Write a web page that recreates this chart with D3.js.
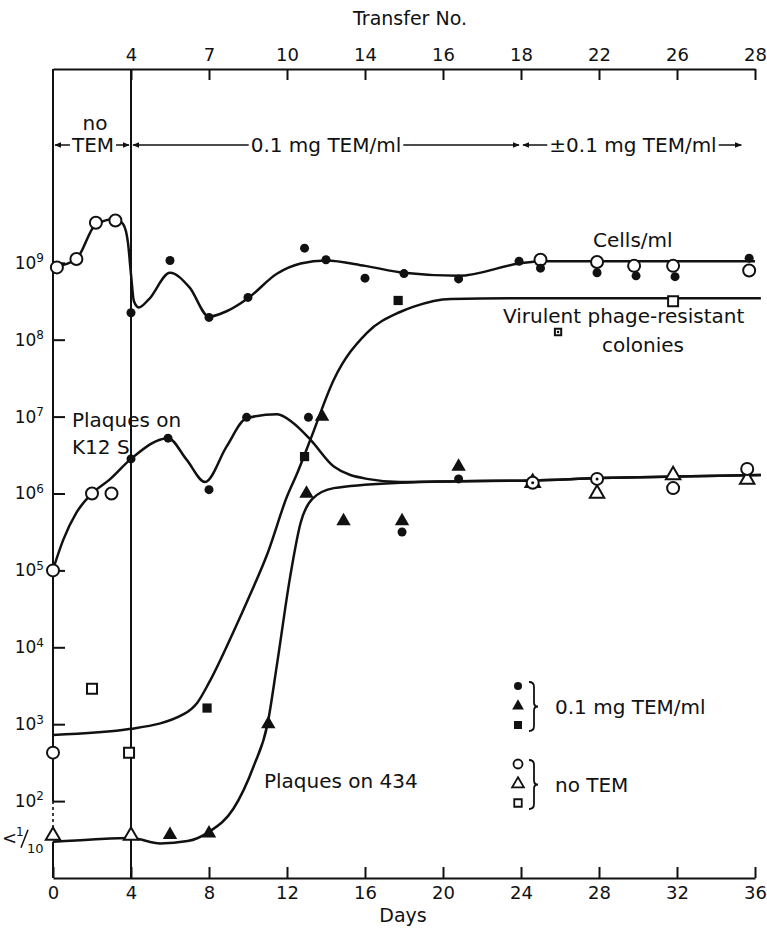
<!DOCTYPE html>
<meta charset="utf-8">
<style>
body { margin: 0; background: #fff; }
text { font-family: "DejaVu Sans", sans-serif; fill: #111; }
.curve { fill: none; stroke: #111; stroke-width: 2.5px; }
</style>
<svg width="767" height="934"></svg>
<script src="https://d3js.org/d3.v7.min.js"></script>
<script>

// ---- data (y values are log10 of count per ml) ----
var dayTicks = [0, 4, 8, 12, 16, 20, 24, 28, 32, 36];
var transferDays = [4, 8, 12, 16, 20, 24, 28, 32, 36];
var transferLabels = ["4", "7", "10", "14", "16", "18", "22", "26", "28"];
var decades = [2, 3, 4, 5, 6, 7, 8, 9];
var belowLimit = 1.55;   // "< 1/10" level

// hand drawn curves [day, log10]
var cellsCurve = [[0, 8.94], [1.2, 9.05], [2.2, 9.5], [3.2, 9.57], [3.6, 9.5], [3.85, 9.25], [4.0, 8.85],
  [4.15, 8.5], [4.4, 8.42], [4.9, 8.52], [6.0, 8.87], [7.0, 8.68], [8.0, 8.3], [8.9, 8.37], [10, 8.54],
  [11.5, 8.86], [12.7, 8.99], [14, 9.03], [16, 8.96], [18, 8.87], [20.8, 8.83], [23.9, 8.99], [25, 9.02], [36, 9.02]];
var resistantCurve = [[0, 2.86], [4, 2.94], [6.7, 3.13], [7.4, 3.28], [8, 3.54], [9.25, 4.2], [10.1, 4.68],
  [11, 5.22], [12, 5.96], [12.5, 6.25], [13.2, 6.7], [14.4, 7.48], [16.1, 8.09], [17.8, 8.36], [18.5, 8.43],
  [20.4, 8.53], [24, 8.54], [36.3, 8.54]];
var k12sCurve = [[0, 5.01], [0.53, 5.4], [1.2, 5.75], [2, 6.0], [2.9, 6.18], [4, 6.45], [5.9, 6.72], [6.85, 6.44],
  [7.8, 6.15], [8.9, 6.61], [9.93, 6.98], [11.5, 7.03], [12.3, 6.92], [13.2, 6.7], [14.4, 6.35], [16.1, 6.19],
  [17.8, 6.15], [20.8, 6.16], [24.6, 6.17], [28, 6.2], [32, 6.22], [36.3, 6.24]];
var p434Curve = [[0, 1.47], [2, 1.5], [4, 1.52], [5.5, 1.45], [6.9, 1.48], [8, 1.6], [9.25, 1.9], [10.3, 2.46],
  [11, 3.0], [11.5, 3.8], [12.15, 4.9], [12.7, 5.62], [13.3, 5.93], [14.4, 6.07], [17.8, 6.14],
  [20.8, 6.16], [24.6, 6.17], [28, 6.2], [32, 6.22], [36.3, 6.24]];

// measured points [day, log10]
var openCircles = [[0.2, 8.94], [1.2, 9.05], [2.2, 9.52], [3.2, 9.55], [25, 9.04], [27.9, 9.01], [29.8, 8.96],
  [31.8, 8.96], [35.7, 8.9], [0, 5.0], [2, 6.0], [3, 6.0], [31.8, 6.07], [35.6, 6.32], [0, 2.63]];
var dottedCircles = [[24.6, 6.14], [27.9, 6.19]];
var filledCircles = [[4, 8.35], [6, 9.03], [8, 8.29], [10, 8.55], [12.9, 9.19], [14, 9.04], [16, 8.8], [18, 8.86],
  [20.8, 8.79], [23.9, 9.02], [25, 8.93], [27.9, 8.87], [29.9, 8.83], [31.9, 8.82], [35.7, 9.06],
  [4, 6.45], [5.9, 6.72], [8, 6.05], [9.93, 6.99], [13.1, 6.99], [17.9, 5.5], [20.8, 6.19]];
var openTriangles = [[0, belowLimit], [4, belowLimit], [24.6, 6.14], [27.9, 6.0], [31.8, 6.24], [35.6, 6.18]];
var filledTriangles = [[6, 1.56], [8, 1.58], [11.04, 3.0], [13, 6.0], [13.8, 7.0], [14.9, 5.64], [17.9, 5.64], [20.8, 6.35]];
var openSquares = [[2, 3.46], [3.9, 2.63], [31.8, 8.5]];
var filledSquares = [[7.9, 3.21], [12.9, 6.48], [17.7, 8.51]];
var dottedSquares = [[25.9, 8.1]];

var periods = [
  {from: 0, to: 4, label: "TEM"},
  {from: 4, to: 24, label: "0.1 mg TEM/ml"},
  {from: 24, to: 35.4, label: "\u00b10.1 mg TEM/ml"}
];

// ---- layout ----
var svg = d3.select("svg"),
    width = +svg.attr("width"),
    height = +svg.attr("height");

svg.append("rect").attr("width", width).attr("height", height).attr("fill", "#fff");

var x = d3.scaleLinear().domain([0, 36]).range([53, 755]);
var y = d3.scaleLog().domain([10, Math.pow(10, 11.52)]).range([878, 69]);
var yl = function(v) { return y(Math.pow(10, v)); };

var yTop = y.range()[1], yBottom = y.range()[0];

svg.append("defs").append("marker")
   .attr("id", "head")
   .attr("viewBox", "0 0 10 10")
   .attr("refX", 9).attr("refY", 5)
   .attr("markerWidth", 7).attr("markerHeight", 7)
   .attr("markerUnits", "userSpaceOnUse")
   .attr("orient", "auto")
   .append("path").attr("d", "M0,1L10,5L0,9Z").attr("fill", "#111");

// bottom axis (days)
var xAxis = svg.append("g")
   .attr("transform", "translate(0," + yBottom + ")")
   .call(d3.axisBottom(x).tickValues(dayTicks).tickSizeInner(-11).tickSizeOuter(0).tickPadding(8));
// top axis (transfer no.)
var tAxis = svg.append("g")
   .attr("transform", "translate(0," + yTop + ")")
   .call(d3.axisTop(x).tickValues(transferDays).tickSizeInner(-11).tickSizeOuter(0).tickPadding(8)
     .tickFormat(function(d, i) { return transferLabels[i]; }));
// left axis, domain drawn by hand because of the break
var yAxis = svg.append("g")
   .attr("transform", "translate(" + x(0) + ",0)")
   .call(d3.axisLeft(y).tickValues(decades.map(function(k) { return Math.pow(10, k); }))
     .tickSizeInner(-12).tickSizeOuter(0).tickPadding(9));
yAxis.select(".domain").remove();
yAxis.selectAll(".tick text").each(function(d) {
  var t = d3.select(this);
  t.text(null);
  t.append("tspan").text("10");
  t.append("tspan").attr("dy", "-0.55em").attr("font-size", "12px").text(Math.round(Math.log10(d)));
});

[xAxis, tAxis, yAxis].forEach(function(g) {
  g.attr("font-family", null).attr("font-size", null);
  g.selectAll("text").attr("font-size", "17px").attr("fill", "#111");
  g.selectAll("line, path").attr("stroke", "#111").attr("stroke-width", 2);
});
xAxis.selectAll("text").attr("font-size", "18px");
tAxis.selectAll("text").attr("font-size", "18px");

svg.append("line").attr("x1", x(0)).attr("x2", x(0)).attr("y1", yTop).attr("y2", y(100))
   .attr("stroke", "#111").attr("stroke-width", 2);
svg.append("line").attr("x1", x(0)).attr("x2", x(0)).attr("y1", y(100)).attr("y2", yl(belowLimit) - 7)
   .attr("stroke", "#111").attr("stroke-width", 1.6).attr("stroke-dasharray", "3,3");
svg.append("line").attr("x1", x(0)).attr("x2", x(0)).attr("y1", yl(belowLimit) + 6).attr("y2", yBottom)
   .attr("stroke", "#111").attr("stroke-width", 2);
svg.append("line").attr("x1", x(4)).attr("x2", x(4)).attr("y1", yTop).attr("y2", yBottom)
   .attr("stroke", "#111").attr("stroke-width", 2);

// "< 1/10"
var lim = svg.append("g").attr("transform", "translate(0," + yl(belowLimit) + ")");
lim.append("text").attr("x", 2).attr("y", 8).attr("font-size", "18px").text("<");
lim.append("text").attr("x", 16).attr("y", 0).attr("font-size", "12px").text("1");
lim.append("line").attr("x1", 21).attr("x2", 28).attr("y1", 12).attr("y2", -6)
   .attr("stroke", "#111").attr("stroke-width", 1.5);
lim.append("text").attr("x", 27).attr("y", 17).attr("font-size", "13px").text("10");

// axis titles
svg.append("text").attr("x", 410).attr("y", 25).attr("text-anchor", "middle").attr("font-size", "19px").text("Transfer No.");
svg.append("text").attr("x", 403).attr("y", 922).attr("text-anchor", "middle").attr("font-size", "19px").text("Days");

// treatment periods
svg.append("text").attr("x", 95).attr("y", 130).attr("text-anchor", "middle").attr("font-size", "20px").text("no");
var arrowY = 145;
periods.forEach(function(p) {
  var x0 = x(p.from) + 2, x1 = x(p.to) - 2, cx = (x(p.from) + x(p.to)) / 2 + (p.from === 0 ? 1 : 0);
  if (p.from === 24) cx = 633;
  var t = svg.append("text").attr("x", cx).attr("y", arrowY + 7).attr("text-anchor", "middle")
     .attr("font-size", "20px").text(p.label);
  var w = t.node().getComputedTextLength();
  svg.append("line").attr("x1", cx - w / 2 - 2).attr("x2", x0).attr("y1", arrowY).attr("y2", arrowY)
     .attr("stroke", "#111").attr("stroke-width", 1.5).attr("marker-end", "url(#head)");
  svg.append("line").attr("x1", cx + w / 2 + 2).attr("x2", x1).attr("y1", arrowY).attr("y2", arrowY)
     .attr("stroke", "#111").attr("stroke-width", 1.5).attr("marker-end", "url(#head)");
});

// curves
var line = d3.line()
   .x(function(d) { return x(d[0]); })
   .y(function(d) { return yl(d[1]); })
   .curve(d3.curveMonotoneX);

[cellsCurve, resistantCurve, k12sCurve, p434Curve].forEach(function(c) {
  svg.append("path").attr("class", "curve").attr("d", line(c));
});

// markers
var tri = function(s) { return d3.symbol().type(d3.symbolTriangle).size(s)(); };
var sq = function(s) { return d3.symbol().type(d3.symbolSquare).size(s)(); };

function drawPoints(data, kind, filled, size) {
  var sel = svg.append("g").selectAll("path")
     .data(data).enter();
  if (kind === "circle") {
    sel.append("circle")
       .attr("cx", function(d) { return x(d[0]); })
       .attr("cy", function(d) { return yl(d[1]); })
       .attr("r", size)
       .attr("fill", filled ? "#111" : "#fff")
       .attr("stroke", "#111").attr("stroke-width", filled ? 0 : 2);
  } else {
    sel.append("path")
       .attr("d", kind === "triangle" ? tri(size) : sq(size))
       .attr("transform", function(d) { return "translate(" + x(d[0]) + "," + yl(d[1]) + ")"; })
       .attr("fill", filled ? "#111" : "#fff")
       .attr("stroke", "#111").attr("stroke-width", filled ? 0 : 2);
  }
}

drawPoints(openTriangles, "triangle", false, 90);
drawPoints(filledTriangles, "triangle", true, 90);
drawPoints(openSquares, "square", false, 100);
drawPoints(filledSquares, "square", true, 85);
drawPoints(dottedSquares, "square", false, 40);
drawPoints(dottedSquares, "circle", true, 1.3);
drawPoints(openCircles, "circle", false, 6);
drawPoints(dottedCircles, "circle", false, 6);
drawPoints(dottedCircles, "circle", true, 1.5);
drawPoints(filledCircles, "circle", true, 4.5);

// labels
function label(tx, ty, s) {
  svg.append("text").attr("x", tx).attr("y", ty).attr("font-size", "20px").text(s);
}
label(593, 247, "Cells/ml");
label(503, 323, "Virulent phage-resistant");
label(602, 352, "colonies");
label(72, 427, "Plaques on");
label(72, 454, "K12 S");
label(264, 788, "Plaques on 434");

// legend
var legendRows = [
  {y0: 686, filled: true, text: "0.1 mg TEM/ml"},
  {y0: 764, filled: false, text: "no TEM"}
];
legendRows.forEach(function(r) {
  var g = svg.append("g");
  g.append("circle").attr("cx", 518).attr("cy", r.y0).attr("r", r.filled ? 4 : 4.5)
   .attr("fill", r.filled ? "#111" : "#fff").attr("stroke", "#111").attr("stroke-width", r.filled ? 0 : 1.8);
  g.append("path").attr("d", tri(60)).attr("transform", "translate(518," + (r.y0 + 20) + ")")
   .attr("fill", r.filled ? "#111" : "#fff").attr("stroke", "#111").attr("stroke-width", r.filled ? 0 : 1.8);
  g.append("path").attr("d", sq(r.filled ? 64 : 56)).attr("transform", "translate(518," + (r.y0 + 39) + ")")
   .attr("fill", r.filled ? "#111" : "#fff").attr("stroke", "#111").attr("stroke-width", r.filled ? 0 : 1.8);
  var b0 = r.y0 - 4, b1 = r.y0 + 45, bm = (b0 + b1) / 2;
  g.append("path")
   .attr("d", "M529," + b0 + "q5,0 5,5V" + (bm - 4) + "q0,4 4,4q-4,0 -4,4V" + (b1 - 5) + "q0,5 -5,5")
   .attr("fill", "none").attr("stroke", "#111").attr("stroke-width", 1.8);
  g.append("text").attr("x", 555).attr("y", bm + 7).attr("font-size", "20px").text(r.text);
});

</script>
